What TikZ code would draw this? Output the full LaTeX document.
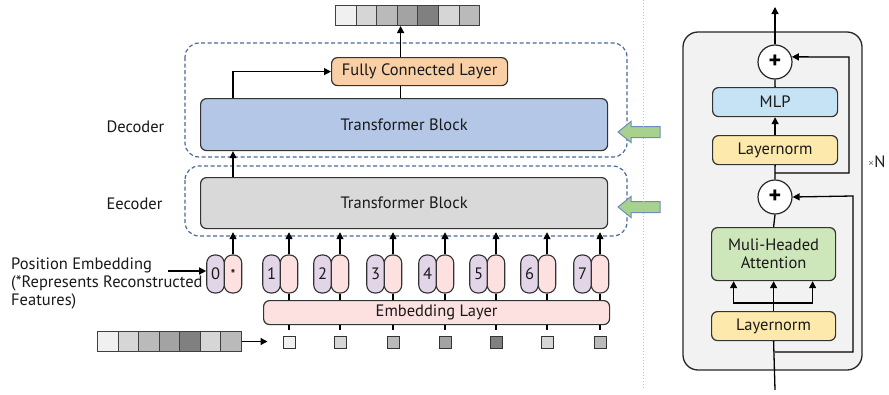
\documentclass[tikz,border=0pt]{standalone}
\usepackage{fontspec}
\setmainfont{PT Sans}
\usetikzlibrary{arrows.meta}

\definecolor{encgray}{HTML}{D9D9D9}
\definecolor{decblue}{HTML}{B4C7E7}
\definecolor{fcorange}{HTML}{F9CFA6}
\definecolor{embpink}{HTML}{FDE0E0}
\definecolor{pospurple}{HTML}{E1D5E7}
\definecolor{mlpblue}{HTML}{C6E2F5}
\definecolor{lnyellow}{HTML}{FDE9AC}
\definecolor{mhagreen}{HTML}{CDE7BA}
\definecolor{framebl}{HTML}{4A6A9C}
\definecolor{arrgreen}{HTML}{A9D18E}
\definecolor{arrbord}{HTML}{6C8EBF}
\definecolor{panelbg}{HTML}{F2F2F2}
\definecolor{sepline}{HTML}{B4C0D8}

\tikzset{
	txt/.style={font=\fontsize{16.5}{18}\selectfont, text=black!90},
	block/.style={draw=black!80, line width=1.2pt, rounded corners=6pt, anchor=north west, inner sep=0pt, txt},
	capsule/.style={draw=black!80, line width=1.1pt, rounded corners=8pt, minimum width=17.5pt, minimum height=38pt, inner sep=0pt, txt},
	cell/.style={draw=black!75, line width=1pt, minimum width=20.5pt, minimum height=20pt, inner sep=0pt, anchor=north west},
	tok/.style={draw=black!80, line width=1pt, minimum size=12pt, inner sep=0pt},
	frame/.style={draw=framebl, line width=1.2pt, dash pattern=on 4pt off 2.5pt, rounded corners=14pt},
	conn/.style={black, line width=1.3pt},
	arr/.style={conn, -{Triangle[length=7pt,width=7pt]}},
	plus/.style={circle, draw=black!85, fill=white, line width=1.2pt, minimum size=34pt, inner sep=0pt, font=\bfseries\fontsize{24}{24}\selectfont},
	feed/.style={draw=arrbord, fill=arrgreen, line width=1pt},
}

\begin{document}
\begin{tikzpicture}[x=1pt, y=-1pt]
	%%%%% START %%%%%
	\useasboundingbox (0,0) rectangle (889,394);
	
	% encoder / decoder
	\draw[frame] (185,43) rectangle (627,157);
	\draw[frame] (185,166) rectangle (627,236);
	\node[block, fill=encgray, minimum width=407pt, minimum height=51pt] (enc) at (200,177) {Transformer Block};
	\node[block, fill=decblue, minimum width=407pt, minimum height=52pt] (dec) at (200,98) {Transformer Block};
	\node[block, fill=fcorange, minimum width=176pt, minimum height=28pt] (fc) at (331,57) {Fully Connected Layer};
	\node[block, fill=embpink, minimum width=346pt, minimum height=24pt] (emb) at (263,300) {Embedding Layer};
	
	\node[txt, anchor=west] (declbl) at (103,127) {Decoder};
	\node[txt, anchor=west] (enclbl) at (103,204) {Eecoder};
	\node[txt, anchor=north west, align=left, inner sep=0pt] (poslbl) at (11,258) {Position Embedding\\(*Represents Reconstructed\\Features)};
	
	% output sequence
	\foreach \j/\g in {0/94,1/84,2/73,3/64,4/50,5/84,6/73}
		\node[cell, fill=white!\g!black] (out\j) at (335+\j*20.6,5) {};
	% input sequence
	\foreach \j/\g in {0/94,1/84,2/73,3/64,4/50,5/84,6/73}
		\node[cell, fill=white!\g!black] (in\j) at (97+\j*20.5,331) {};
	
	% tokens
	\foreach \i/\cx in {0/233,1/289,2/340,3/393,4/445,5/496,6/547,7/600} {
		\node[capsule, fill=embpink] (p\i) at (\cx,274) {};
		\node[capsule, fill=pospurple] (q\i) at (\cx-17.5,274) {\i};
		\draw[arr, shorten >=3pt] (p\i.north) -- (p\i.north |- enc.south);
	}
	\node[font=\fontsize{14}{14}\selectfont] (star) at (p0) {*};
	\foreach \i/\cx/\g in {1/289/94,2/340/84,3/393/73,4/445/64,5/496/50,6/547/84,7/600/73} {
		\node[tok, fill=white!\g!black] (s\i) at (\cx,342) {};
		\draw[conn] (p\i.south) -- (p\i.south |- emb.north);
		\draw[conn, shorten <=6pt] (s\i.north) -- (s\i.north |- emb.south);
	}
	
	\coordinate (posarr) at (168,271);
	\draw[arr, shorten >=15pt] (in6.east) -- (in6.east -| s1.west);
	\draw[arr] (posarr) -- (q0.west |- posarr);
	\draw[arr] (p0 |- enc.north) -- (p0 |- dec.south);
	\draw[arr] (p0 |- dec.north) |- (fc.west);
	\draw[conn] ([xshift=-19pt]fc.south) -- ([xshift=-19pt]fc.south |- dec.north);
	\draw[arr] ([xshift=-19pt]fc.north) -- ([xshift=-19pt]fc.north |- out3.south);
	
	% feed arrows
	\foreach \fy in {132,207}
		\draw[feed] (660,\fy-5.5) -- (631,\fy-5.5) -- (631,\fy-10.5) -- (618,\fy) -- (631,\fy+10.5) -- (631,\fy+5.5) -- (660,\fy+5.5) -- cycle;
	
	\draw[sepline, line width=1pt, dotted] (643,0) -- (643,388);
	
	% transformer block detail
	\draw[fill=panelbg, draw=black!85, line width=1.3pt, rounded corners=15pt] (683,32) rectangle (862,370);
	\node[plus] (add2) at (775,62) {+};
	\node[block, fill=mlpblue, minimum width=125pt, minimum height=29pt] (mlp) at (712,87) {MLP};
	\node[block, fill=lnyellow, minimum width=125pt, minimum height=29pt] (ln2) at (712,135) {Layernorm};
	\node[plus] (add1) at (775,197) {+};
	\node[block, fill=mhagreen, minimum width=124pt, minimum height=53pt, align=center] (mha) at (711,227) {Muli-Headed\\Attention};
	\node[block, fill=lnyellow, minimum width=124pt, minimum height=29pt] (ln1) at (711,311) {Layernorm};
	\node[txt, anchor=west, inner sep=0pt] (reps) at (868,162) {{\fontsize{12}{12}\selectfont\color{black!50}×}N};
	
	\coordinate (top) at (775,7);
	\coordinate (inp) at (775,390);
	\coordinate (br2) at (775,173);
	\coordinate (br1) at (775,352);
	\coordinate (fan) at (775,303);
	
	\draw[arr] (add2.north) -- (top);
	\draw[conn] (mlp.north) -- (add2.south);
	\draw[arr] (ln2.north) -- (mlp.south);
	\draw[conn] (add1.north) -- (ln2.south);
	\draw[arr] (br2) -- (849,173) -- (849,57) -- (add2.17);
	\draw[conn] (mha.north) -- (add1.south);
	\draw[arr] (ln1.north) -- (mha.south);
	\draw[arr] (fan) -| ([xshift=-40pt]mha.south);
	\draw[arr] (fan) -| ([xshift=39pt]mha.south);
	\draw[conn] (inp) -- (ln1.south);
	\draw[arr] (br1) -- (853,352) -- (853,196) -- (add1.east);
	
	%%%%% END %%%%%
\end{tikzpicture}
\end{document}
